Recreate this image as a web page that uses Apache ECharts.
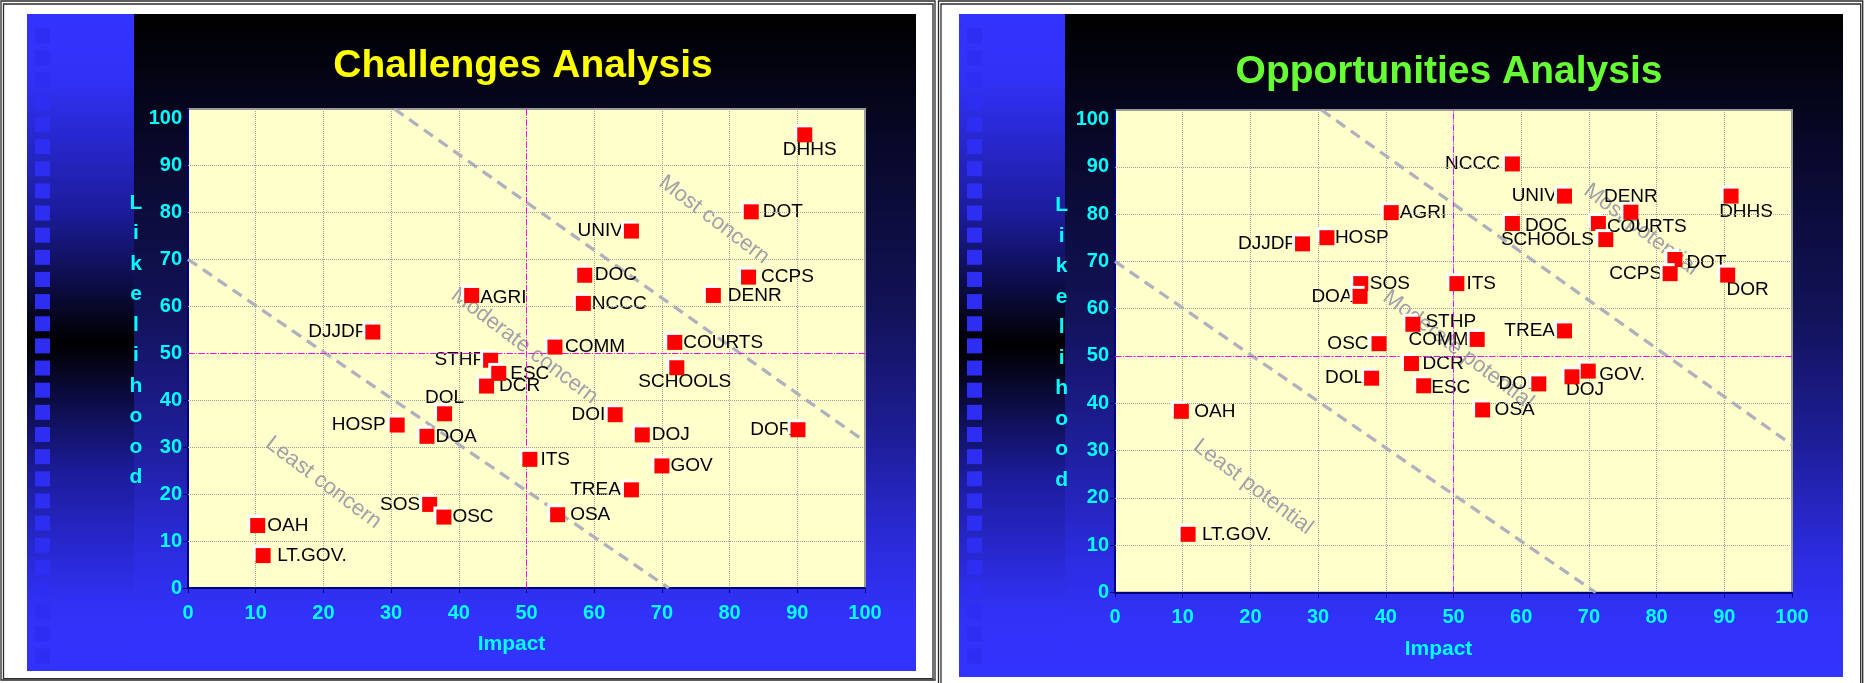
<!DOCTYPE html>
<html>
<head>
<meta charset="utf-8">
<title>Challenges and Opportunities Analysis</title>
<script src="https://cdn.jsdelivr.net/npm/echarts@6/dist/echarts.min.js"></script>
<style>
  html, body { margin: 0; padding: 0; background: #ffffff; }
  #chart { width: 1866px; height: 683px; }
</style>
</head>
<body>
<div id="chart"></div>
<script>
// ---------- data ----------
const axisTicks = [0, 10, 20, 30, 40, 50, 60, 70, 80, 90, 100];
const gridTicks = [10, 20, 30, 40, 50, 60, 70, 80, 90];
const midLine = 50;

// Challenges: agency, impact (x), likelihood (y)
const challengeNames = ['DHHS', 'DOT', 'UNIV', 'DOC', 'CCPS', 'NCCC', 'DENR', 'AGRI', 'DJJDP', 'COMM',
  'COURTS', 'STHP', 'ESC', 'SCHOOLS', 'DCR', 'DOL', 'HOSP', 'DOA', 'DOI', 'DOJ',
  'DOR', 'ITS', 'GOV', 'TREA', 'SOS', 'OSC', 'OSA', 'OAH', 'LT.GOV.'];
const challengeImpact = [91.1, 83.2, 65.5, 58.6, 82.8, 58.4, 77.6, 41.9, 27.3, 54.2,
  71.9, 44.7, 45.9, 72.2, 44.1, 37.9, 30.9, 35.3, 63.1, 67.1,
  90.1, 50.5, 70.0, 65.5, 35.7, 37.8, 54.6, 10.3, 11.1];
const challengeLikelihood = [96.5, 80.1, 76.0, 66.6, 66.2, 60.6, 62.3, 62.3, 54.5, 51.3,
  52.3, 48.5, 45.7, 46.9, 43.0, 37.1, 34.7, 32.3, 36.9, 32.6,
  33.7, 27.4, 26.0, 20.9, 17.8, 15.1, 15.6, 13.3, 6.9];

// Opportunities: agency, impact (x), likelihood (y)
const opportunityNames = ['NCCC', 'UNIV', 'DHHS', 'DENR', 'AGRI', 'DOC', 'COURTS', 'HOSP', 'SCHOOLS', 'DJJDP',
  'DOT', 'CCPS', 'DOR', 'SOS', 'ITS', 'DOA', 'STHP', 'TREA', 'COMM', 'OSC',
  'DCR', 'GOV.', 'DOJ', 'DOL', 'DOI', 'ESC', 'OSA', 'OAH', 'LT.GOV.'];
const opportunityImpact = [58.7, 66.4, 91.0, 76.2, 40.8, 58.7, 71.4, 31.3, 72.5, 27.7,
  82.7, 82.0, 90.5, 36.3, 50.5, 36.2, 44.0, 66.4, 53.5, 39.0,
  43.8, 69.9, 67.5, 37.9, 62.6, 45.6, 54.3, 9.8, 10.8];
const opportunityLikelihood = [90.6, 83.8, 83.8, 80.4, 80.3, 78.0, 78.0, 75.0, 74.6, 73.7,
  70.4, 67.4, 67.1, 65.3, 65.3, 62.6, 56.7, 55.3, 53.5, 52.6,
  48.4, 46.8, 45.6, 45.3, 44.1, 43.7, 38.6, 38.3, 12.3];

// Zone dividers (impact, likelihood end points)
const lowerDividerX = [0, 71];
const lowerDividerY = [70, 0];
const upperDividerX = [30.5, 100];
const upperDividerY = [102, 31.2];

// Zone captions and where they sit
const challengeZones = ['Least concern', 'Moderate concern', 'Most concern'];
const challengeZoneX = [20.0, 49.7, 77.7];
const challengeZoneY = [22.4, 51.5, 78.4];
const opportunityZones = ['Least potential', 'Moderate potential', 'Most potential'];
const opportunityZoneX = [20.4, 50.7, 77.7];
const opportunityZoneY = [22.3, 51.3, 76.7];

// ---------- label placement: [side, gap, dx, dy] ----------
const challengeLabelSide = {
  'DHHS': ['bottom', -2, 5, 0], 'DOT': ['right', 4], 'UNIV': ['left', 1], 'DOC': ['right', 2.5],
  'CCPS': ['right', 5], 'NCCC': ['right', 1], 'DENR': ['right', 7], 'AGRI': ['right', 1, 0, 2],
  'DJJDP': ['left', -2], 'COMM': ['right', 2.5], 'COURTS': ['right', 1], 'STHP': ['left', -2],
  'ESC': ['right', 4], 'SCHOOLS': ['bottom', -3, 8, 0], 'DCR': ['right', 5], 'DOL': ['top', -1],
  'HOSP': ['left', 4], 'DOA': ['right', 1], 'DOI': ['left', 2.5], 'DOJ': ['right', 2],
  'DOR': ['left', -2], 'ITS': ['right', 3], 'GOV': ['right', 1], 'TREA': ['left', 3],
  'SOS': ['left', 2], 'OSC': ['right', 1], 'OSA': ['right', 5], 'OAH': ['right', 2],
  'LT.GOV.': ['right', 6.5]
};
const opportunityLabelSide = {
  'NCCC': ['left', 5], 'UNIV': ['left', 0], 'DHHS': ['bottom', -1, 15, 0], 'DENR': ['top', -2],
  'AGRI': ['right', 1], 'DOC': ['right', 5, 0, 2], 'COURTS': ['right', 1, 0, 3], 'HOSP': ['right', 0.5],
  'SCHOOLS': ['left', 4.5], 'DJJDP': ['left', -2], 'DOT': ['right', 4, 0, 3], 'CCPS': ['left', 0.5],
  'DOR': ['bottom', -2, 20, 0], 'SOS': ['right', 1.5], 'ITS': ['right', 2], 'DOA': ['left', 0],
  'STHP': ['right', 5, 0, -3], 'TREA': ['left', 2], 'COMM': ['left', 1], 'OSC': ['left', 3],
  'DCR': ['right', 3.5], 'GOV.': ['right', 3.5, 0, 4], 'DOJ': ['bottom', -4, 13, 0], 'DOL': ['left', 0],
  'DOI': ['left', -1], 'ESC': ['right', 0, 0, 2], 'OSA': ['right', 4.5], 'OAH': ['right', 5.5],
  'LT.GOV.': ['right', 6.3]
};

// ---------- styling ----------
const FONT = '"Liberation Sans", Arial, Helvetica, sans-serif';
const CYAN = '#00ffff';
const NAVY = '#000080';
const MARK = 15;

const chart = echarts.init(document.getElementById('chart'), null, { renderer: 'canvas' });

// Two slide-style panels: blue side stripe + dark-to-blue main area
const panels = [
  { x: 27, y: 14, w: 889, h: 657, stripe: 107, frame: [[1, 1, 934, 679], [3.5, 4, 929.5, 674.7]],
    title: 'Challenges Analysis', titleColor: '#ffff00', titleAt: [523, 66], yNameAt: [136, 340] },
  { x: 959, y: 14, w: 884, h: 663, stripe: 106, frame: [[938.5, 1, 924.2, 700], [941, 4, 919.7, 700]],
    title: 'Opportunities Analysis', titleColor: '#66ff33', titleAt: [1449, 72], yNameAt: [1061.7, 342.5] }
];

const graphics = [];
panels.forEach(p => {
  p.frame.forEach(f => graphics.push({
    type: 'rect', z: -10, silent: true,
    shape: { x: f[0], y: f[1], width: f[2], height: f[3] },
    style: { fill: null, stroke: '#2a2a2a', lineWidth: 1.3 }
  }));
  graphics.push({
    type: 'rect', z: -9, silent: true,
    shape: { x: p.x, y: p.y, width: p.stripe, height: p.h },
    style: {
      fill: new echarts.graphic.LinearGradient(0, 0, 0, 1, [
        { offset: 0, color: '#3333ff' }, { offset: 0.1, color: '#3131f6' },
        { offset: 0.3, color: '#1c1c9c' }, { offset: 0.5, color: '#000000' },
        { offset: 0.7, color: '#1c1c9c' }, { offset: 0.9, color: '#3131f6' },
        { offset: 1, color: '#3333ff' }
      ])
    }
  });
  graphics.push({
    type: 'rect', z: -9, silent: true,
    shape: { x: p.x + p.stripe, y: p.y, width: p.w - p.stripe, height: p.h },
    style: {
      fill: new echarts.graphic.LinearGradient(0, 0, 0, 1, [
        { offset: 0, color: '#000000' }, { offset: 0.2, color: '#08082a' },
        { offset: 0.45, color: '#121258' }, { offset: 0.65, color: '#1e1e9a' },
        { offset: 0.82, color: '#2c2ce0' }, { offset: 0.92, color: '#3232fa' },
        { offset: 1, color: '#3333ff' }
      ])
    }
  });
  // column of small squares down the stripe
  for (let i = 0; i < 29; i++) {
    graphics.push({
      type: 'rect', z: -8, silent: true,
      shape: { x: p.x + 8, y: 28.3 + i * 22.15, width: 15, height: 15 },
      style: { fill: '#2e2ef2' }
    });
  }
  // panel title
  graphics.push({
    type: 'text', z: 10, silent: true, x: p.titleAt[0], y: p.titleAt[1],
    style: { text: p.title, fill: p.titleColor, font: 'bold 39px ' + FONT, align: 'center', verticalAlign: 'middle' }
  });
  // stacked y-axis title
  graphics.push({
    type: 'text', z: 10, silent: true, x: p.yNameAt[0], y: p.yNameAt[1],
    style: { text: 'Likelihood'.split('').join('\n'), fill: CYAN, font: 'bold 21px ' + FONT,
      lineHeight: 30.5, align: 'center', verticalAlign: 'middle' }
  });
});

const grids = [
  { left: 188, top: 109, width: 677, height: 479 },
  { left: 1115, top: 110, width: 677, height: 482.5 }
];

function xAxisFor(i) {
  return {
    type: 'value', gridIndex: i, min: 0, max: 100, interval: 10,
    name: 'Impact', nameLocation: 'middle', nameGap: 46,
    nameTextStyle: { color: CYAN, fontFamily: FONT, fontWeight: 'bold', fontSize: 21, padding: [0, 30, 0, 0] },
    axisLine: { onZero: false, lineStyle: { color: NAVY, width: 2 } },
    axisTick: { length: 5, lineStyle: { color: NAVY, width: 1 } },
    axisLabel: { color: CYAN, fontFamily: FONT, fontWeight: 'bold', fontSize: 20, margin: 15 },
    splitLine: { show: true, lineStyle: { color: '#a0a0a0', type: [1, 1], width: 1 } }
  };
}
function yAxisFor(i) {
  return {
    type: 'value', gridIndex: i, min: 0, max: 102, interval: 10,
    axisLine: { onZero: false, lineStyle: { color: NAVY, width: 2 } },
    axisTick: { length: 5, lineStyle: { color: NAVY, width: 1 } },
    axisLabel: { color: CYAN, fontFamily: FONT, fontWeight: 'bold', fontSize: 20, margin: 6, showMaxLabel: false,
      formatter: v => (v % 10 === 0 ? String(v) : '') },
    splitLine: { show: false }
  };
}

function buildSeries(i, names, xs, ys, sides, zones, zx, zy) {
  const series = [];
  // horizontal grid lines and the two mid reference lines
  series.push({
    type: 'scatter', xAxisIndex: i, yAxisIndex: i, data: [], silent: true, z: 1,
    markLine: {
      silent: true, symbol: 'none', animation: false, label: { show: false },
      data: gridTicks.map(v => ({ yAxis: v, lineStyle: { color: '#a0a0a0', type: [1, 1], width: 1 } }))
        .concat([
          { xAxis: midLine, lineStyle: { color: '#ff00ff', type: [6, 2, 1, 2], width: 1 } },
          { yAxis: midLine, lineStyle: { color: '#ff00ff', type: [6, 2, 1, 2], width: 1 } }
        ])
    }
  });
  // zone captions
  series.push({
    type: 'scatter', xAxisIndex: i, yAxisIndex: i, silent: true, z: 2, symbolSize: 1,
    itemStyle: { color: 'rgba(0,0,0,0)', opacity: 1 },
    data: zones.map((t, k) => ({ name: t, value: [zx[k], zy[k]] })),
    label: { show: true, position: 'inside', formatter: '{b}', rotate: -37, color: '#a0a0aa',
      fontFamily: FONT, fontSize: 22, opacity: 1 }
  });
  // zone dividers
  [[lowerDividerX, lowerDividerY], [upperDividerX, upperDividerY]].forEach(d => {
    series.push({
      type: 'line', xAxisIndex: i, yAxisIndex: i, silent: true, z: 3, symbol: 'none',
      data: d[0].map((x, k) => [x, d[1][k]]),
      lineStyle: { color: '#b0b0be', width: 3.3, type: [11, 7], opacity: 1 }
    });
  });
  // agency names
  series.push({
    type: 'scatter', xAxisIndex: i, yAxisIndex: i, silent: true, z: 4, symbol: 'rect', symbolSize: MARK,
    itemStyle: { color: 'rgba(0,0,0,0)', opacity: 1 },
    data: names.map((n, k) => {
      const s = sides[n] || ['right', 2];
      return {
        name: n, value: [xs[k], ys[k]],
        label: { position: s[0], distance: s[1], offset: [s[2] || 0, s[3] || 0] }
      };
    }),
    label: { show: true, formatter: '{b}', color: '#000000', fontFamily: FONT, fontSize: 19, opacity: 1 }
  });
  // markers: red squares with a white highlight offset up-left
  series.push({
    type: 'scatter', xAxisIndex: i, yAxisIndex: i, silent: true, z: 5, symbol: 'rect', symbolSize: MARK,
    itemStyle: { color: '#ff0000', opacity: 1, shadowColor: '#ffffff', shadowBlur: 0, shadowOffsetX: -3, shadowOffsetY: -3 },
    data: names.map((n, k) => [xs[k], ys[k]])
  });
  return series;
}

chart.setOption({
  animation: false,
  backgroundColor: '#ffffff',
  graphic: { elements: graphics },
  grid: grids.map(g => Object.assign({
    show: true, backgroundColor: '#ffffcc', borderColor: '#9a9a9a', borderWidth: 2,
    containLabel: false, outerBoundsMode: 'none'
  }, g)),
  xAxis: [xAxisFor(0), xAxisFor(1)],
  yAxis: [yAxisFor(0), yAxisFor(1)],
  series: buildSeries(0, challengeNames, challengeImpact, challengeLikelihood, challengeLabelSide,
      challengeZones, challengeZoneX, challengeZoneY)
    .concat(buildSeries(1, opportunityNames, opportunityImpact, opportunityLikelihood, opportunityLabelSide,
      opportunityZones, opportunityZoneX, opportunityZoneY))
});
</script>
</body>
</html>
